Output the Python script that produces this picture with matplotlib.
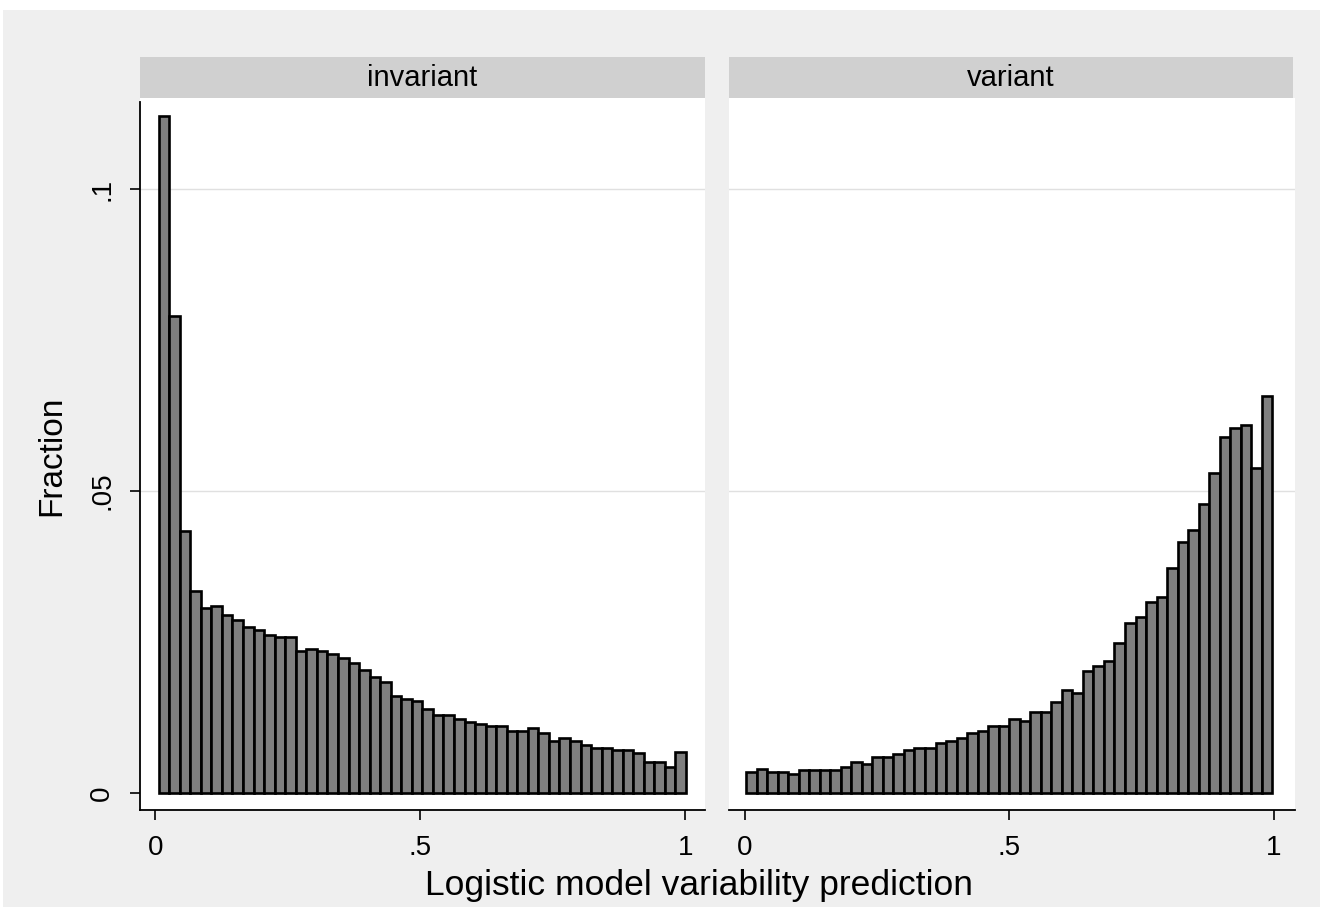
import numpy as np
import matplotlib.pyplot as plt
from matplotlib.patches import Rectangle

plt.rcParams['font.family'] = ['Liberation Sans', 'DejaVu Sans']

# --- data (fraction per bin, 50 bins each) ---
panels = ['invariant', 'variant']
invariant_frac = [0.1122, 0.0790, 0.0434, 0.0335, 0.0306, 0.0310, 0.0295, 0.0287, 0.0275, 0.0270,
                  0.0262, 0.0259, 0.0259, 0.0236, 0.0239, 0.0236, 0.0231, 0.0223, 0.0216, 0.0204,
                  0.0192, 0.0184, 0.0160, 0.0156, 0.0152, 0.0140, 0.0129, 0.0129, 0.0123, 0.0118,
                  0.0114, 0.0111, 0.0111, 0.0102, 0.0102, 0.0107, 0.0100, 0.0087, 0.0091, 0.0086,
                  0.0080, 0.0074, 0.0074, 0.0071, 0.0071, 0.0067, 0.0051, 0.0051, 0.0043, 0.0068]
variant_frac = [0.0035, 0.0040, 0.0035, 0.0035, 0.0031, 0.0038, 0.0038, 0.0038, 0.0038, 0.0044,
                0.0052, 0.0048, 0.0059, 0.0059, 0.0064, 0.0071, 0.0075, 0.0074, 0.0083, 0.0086,
                0.0091, 0.0099, 0.0103, 0.0111, 0.0111, 0.0123, 0.0119, 0.0135, 0.0135, 0.0151,
                0.0170, 0.0166, 0.0202, 0.0211, 0.0218, 0.0249, 0.0281, 0.0292, 0.0317, 0.0324,
                0.0372, 0.0415, 0.0435, 0.0479, 0.0530, 0.0589, 0.0605, 0.0609, 0.0539, 0.0657]
bin_start = [0.006, 0.002]
bin_width = 0.0199
x_ticks = [0, 0.5, 1]
x_ticklabels = ['0', '.5', '1']
y_ticks = [0, 0.05, 0.1]
y_ticklabels = ['0', '.05', '.1']

W, H = 1320, 907
fig = plt.figure(figsize=(W / 100, H / 100), dpi=100, facecolor='white')

# gray graph region (white strip on top / left like the original export)
fig.add_artist(Rectangle((3 / W, 0), 1, 1 - 10 / H, transform=fig.transFigure,
                         facecolor='#efefef', edgecolor='none', zorder=-5))

def fx(px):
    return px / W

def fy(py):
    return 1 - py / H

# panel geometry in pixels (left, right)
panel_px = [(140, 705), (729, 1295)]
top_px, bottom_px = 98, 810
xlims = [(-0.0292, 1.0368), (-0.0302, 1.0397)]
ylim = (-0.0028, 0.1151)

for i, (name, vals) in enumerate(zip(panels, [invariant_frac, variant_frac])):
    l, r = panel_px[i]
    ax = fig.add_axes([fx(l), fy(bottom_px), (r - l) / W, (bottom_px - top_px) / H])
    ax.set_facecolor('white')
    edges = bin_start[i] + bin_width * np.arange(len(vals))
    ax.bar(edges, vals, width=bin_width, align='edge', color='#7f7f7f',
           edgecolor='black', linewidth=1.9, zorder=2)
    for g in [0.05, 0.1]:
        ax.axhline(g, color='#e0e0e0', linewidth=1.0, zorder=1)
    ax.set_xlim(*xlims[i])
    ax.set_ylim(*ylim)
    ax.set_xticks(x_ticks)
    ax.set_xticklabels(x_ticklabels)
    ax.tick_params(axis='x', length=7, width=1.2, pad=11, labelsize=20)
    for s in ['top', 'right']:
        ax.spines[s].set_visible(False)
    ax.spines['bottom'].set_linewidth(1.3)
    if i == 0:
        ax.set_yticks(y_ticks)
        ax.set_yticklabels(y_ticklabels, rotation=90, va='center')
        ax.tick_params(axis='y', length=7, width=1.2, pad=11, labelsize=20)
        ax.spines['left'].set_linewidth(1.3)
        ax.spines['left'].set_bounds(ylim[0], 0.1144)
    else:
        ax.spines['left'].set_visible(False)
        ax.set_yticks([])

    # strip header
    sr = 1293 if i == 1 else r
    fig.add_artist(Rectangle((fx(l), fy(98)), (sr - l) / W, 41 / H, transform=fig.transFigure,
                             facecolor='#d0d0d0', edgecolor='none', zorder=1))
    fig.text(fx((l + sr) / 2), fy(77.5), name, ha='center', va='center', fontsize=21, zorder=2)

fig.text(fx(52), fy(456), 'Fraction', rotation=90, ha='center', va='center', fontsize=24)
fig.text(fx(699), fy(895), 'Logistic model variability prediction', ha='center',
         va='baseline', fontsize=25.5)

fig.savefig('out.png', dpi=100)
